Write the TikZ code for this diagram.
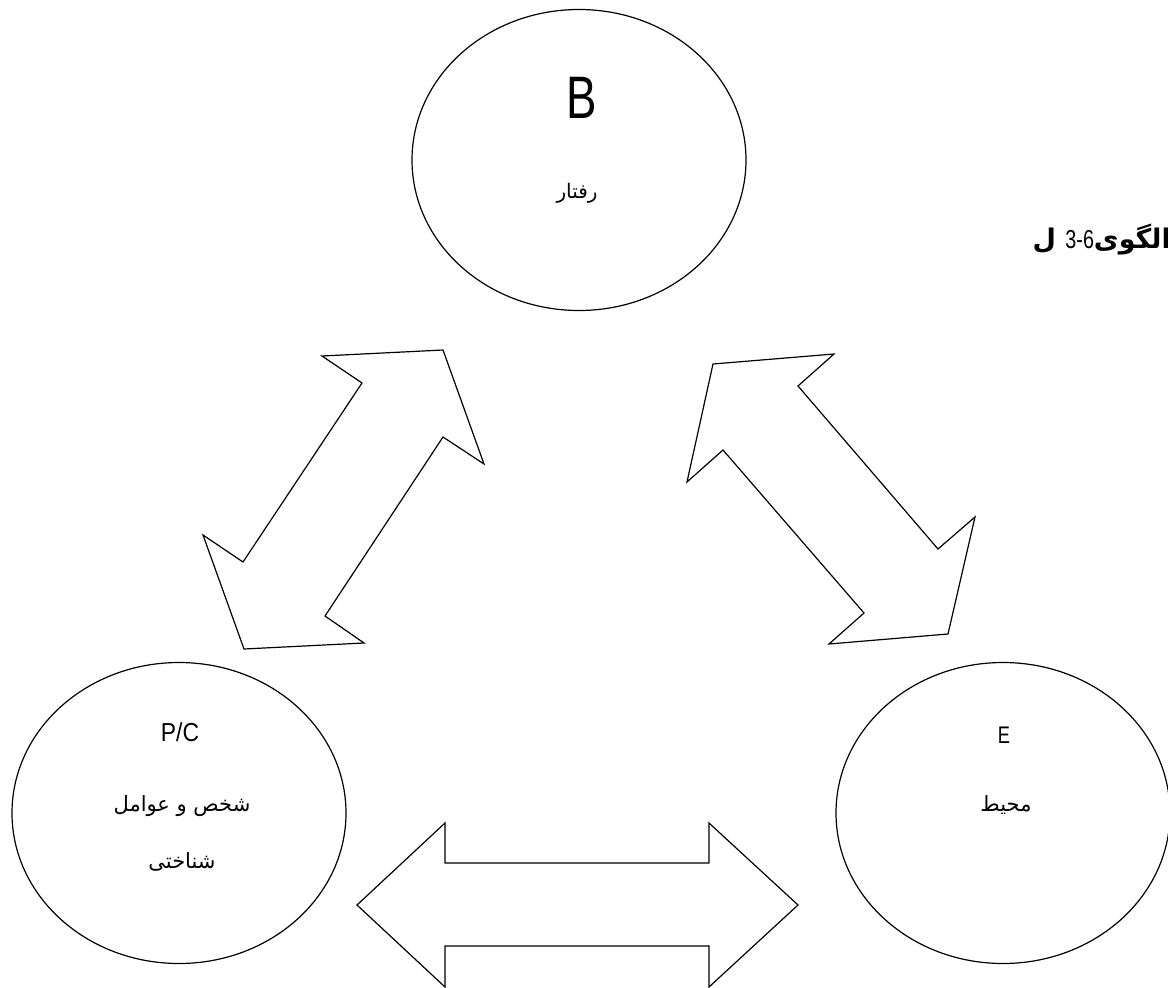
\documentclass[tikz,border=0pt]{standalone}
\usepackage{fontspec}
\usetikzlibrary{shapes.geometric}
\TeXXeTstate=1
\newfontfamily\latinf[FakeStretch=0.76]{Liberation Sans}
\newfontfamily\latinw[FakeStretch=0.88]{Liberation Sans}
\newfontfamily\arabicfont[Script=Arabic]{DejaVu Sans}
\begin{document}
\begin{tikzpicture}[x=1pt,y=-1pt,line width=1.2pt,
  circ/.style={draw, ellipse, inner sep=0pt, minimum width=334pt, minimum height=301pt},
  blockarrow/.style={draw, fill=white, line join=miter},
  fa/.style={font=\arabicfont\fontsize{21}{24}\selectfont, inner sep=0pt}]
\useasboundingbox (0,0) rectangle (1168,988);
\clip (0,0) rectangle (1168,988);
% ellipses
\node[circ] (Bc) at (579,160) {};
\node[circ] (Pc) at (179,813) {};
\node[circ] (Ec) at (1003,813) {};
% labels
\node[inner sep=0pt, font=\latinf\fontsize{60}{60}\selectfont] (Bl) at (582,98) {B};
\node[fa, font=\arabicfont\fontsize{20}{24}\selectfont] (Bt) at (577,193) {\beginR رفتار\endR};
\node[inner sep=0pt, font=\latinw\fontsize{26}{30}\selectfont] (Pl) at (180,732) {P/C};
\node[fa] (Pt1) at (182,806) {\beginR شخص و عوامل\endR};
\node[fa] (Pt2) at (182,862) {\beginR شناختی\endR};
\node[inner sep=0pt, font=\latinf\fontsize{24}{28}\selectfont] (El) at (1004,735) {E};
\node[fa] (Et) at (1006,805) {\beginR محیط\endR};
% caption (clipped at right edge)
\node[anchor=base west, inner sep=0pt, font=\arabicfont\bfseries\fontsize{27}{32}\selectfont] (cap) at (1032,248)
  {\beginR الگوی\beginL{\latinf\mdseries\fontsize{26}{30}\selectfont 3-6}\endL{} ل\endR};
% block arrows
\draw[blockarrow] (322,356) -- (443,350) -- (484,464) -- (443,437) -- (325,616)
  -- (364,643) -- (244,649) -- (203,535) -- (243,562) -- (362,383) -- cycle;
\draw[blockarrow] (713,364) -- (834,354) -- (798,386) -- (938,549) -- (975,517)
  -- (948,634) -- (829,644) -- (864,613) -- (723,450) -- (687,482) -- cycle;
\draw[blockarrow] (357,905) -- (445,823) -- (445,863) -- (709,863) -- (709,823)
  -- (798,905) -- (709,987) -- (709,946) -- (445,946) -- (445,987) -- cycle;
\end{tikzpicture}
\end{document}
